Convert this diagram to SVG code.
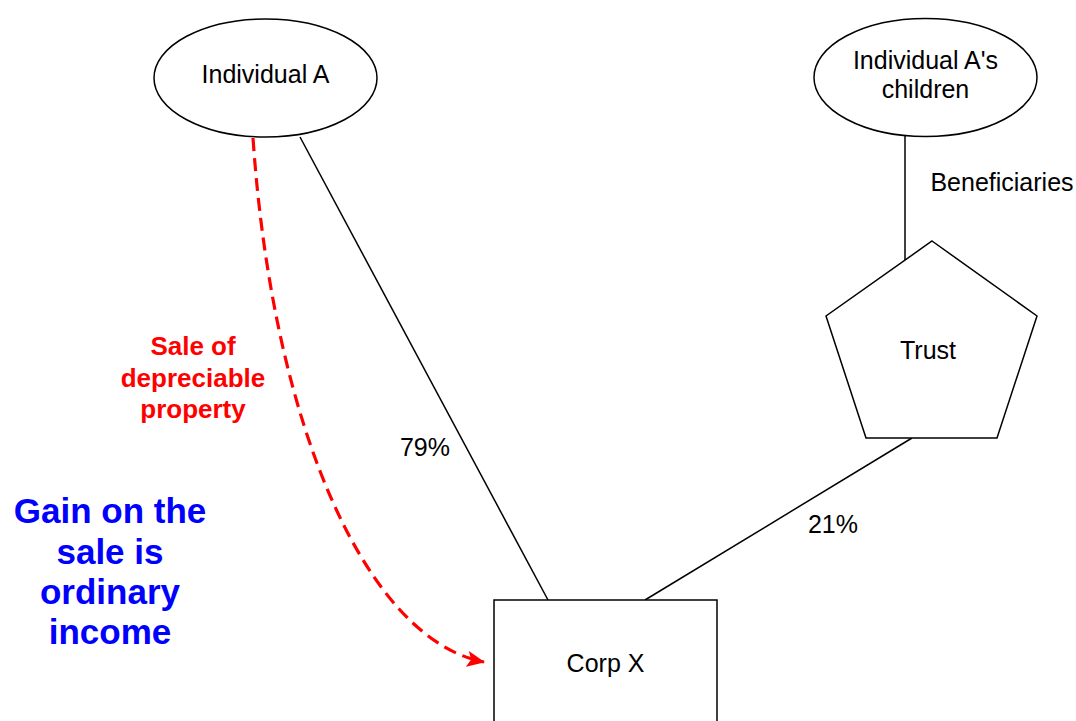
<svg xmlns="http://www.w3.org/2000/svg" width="1076" height="721" viewBox="0 0 1076 721">
<defs>
<style>
.shape{fill:#fff;stroke:#000;stroke-width:1.5}
.edge{fill:none;stroke:#000;stroke-width:1.5}
.lbl{font-family:"Liberation Sans",Arial,sans-serif;font-size:25px;fill:#000;text-anchor:middle}
.red{font-family:"Liberation Sans",Arial,sans-serif;font-size:26px;font-weight:bold;fill:#ff0000;text-anchor:middle}
.blue{font-family:"Liberation Sans",Arial,sans-serif;font-size:35px;font-weight:bold;fill:#0000ff;text-anchor:middle}
</style>
<marker id="arr" viewBox="0 0 18 16" refX="17" refY="8" markerWidth="18" markerHeight="16" markerUnits="userSpaceOnUse" orient="auto">
<path d="M0,0 L18,8 L0,16 L4,8 Z" fill="#ff0000"/>
</marker>
</defs>
<rect width="1076" height="721" fill="#fff"/>
<g id="connectors">
<line class="edge" x1="300" y1="137" x2="548" y2="600"/>
<line class="edge" x1="912" y1="438" x2="645" y2="600"/>
<line class="edge" x1="905" y1="136" x2="905" y2="260"/>
<path d="M253,138 C273,430 368,640 484,662" fill="none" stroke="#ff0000" stroke-width="3.2" stroke-dasharray="13,7" marker-end="url(#arr)"/>
<text class="lbl" x="425" y="456">79%</text>
<text class="lbl" x="833" y="533">21%</text>
<text class="lbl" x="1002" y="191">Beneficiaries</text>
<text class="red" x="193" y="355">Sale of</text>
<text class="red" x="193" y="387">depreciable</text>
<text class="red" x="193" y="418">property</text>
</g>
<g id="individualA">
<ellipse class="shape" cx="265.5" cy="78" rx="111.5" ry="59"/>
<text class="lbl" x="265.5" y="83">Individual A</text>
</g>
<g id="children">
<ellipse class="shape" cx="925.5" cy="77.5" rx="111.5" ry="59"/>
<text class="lbl" x="925.5" y="69">Individual A's</text>
<text class="lbl" x="925.5" y="98">children</text>
</g>
<g id="trust">
<polygon class="shape" points="932,241 1037,316 997,438 866,438 826,316"/>
<text class="lbl" x="928" y="359">Trust</text>
</g>
<g id="corpX">
<rect class="shape" x="494" y="600" width="223" height="130"/>
<text class="lbl" x="605.5" y="672">Corp X</text>
</g>
<g id="note">
<text class="blue" x="110" y="523">Gain on the</text>
<text class="blue" x="110" y="564">sale is</text>
<text class="blue" x="110" y="604">ordinary</text>
<text class="blue" x="110" y="644">income</text>
</g>
</svg>
